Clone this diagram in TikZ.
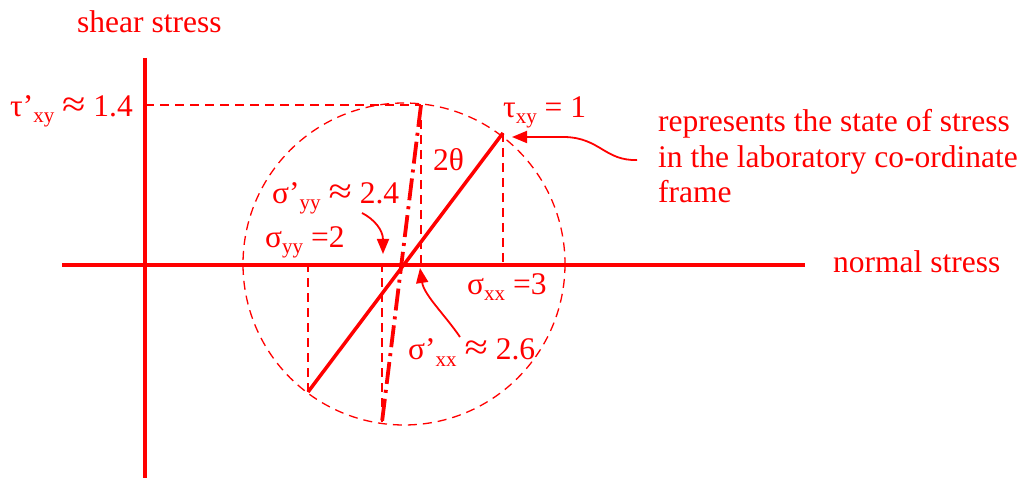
\documentclass[tikz,border=0pt]{standalone}
\usepackage{fontspec}
\usepackage{graphicx}
\setmainfont{Liberation Serif}
\usetikzlibrary{arrows.meta}
\definecolor{rd}{RGB}{255,0,0}
\newcommand\sbs[1]{\raisebox{-6pt}{\fontsize{21}{21}\selectfont #1}}
\newcommand\apx{\scalebox{1.35}[1.15]{≈}}
\begin{document}
\begin{tikzpicture}[x=1pt,y=-1pt,
 lbl/.style={anchor=base west,inner sep=0pt,text=rd,font=\fontsize{31.5}{35.5}\selectfont},
 axisline/.style={draw=rd,line width=3.5pt},
 guide/.style={draw=rd,line width=1.3pt,dash pattern=on 9pt off 6pt},
 mohr/.style={draw=rd,line width=3.5pt},
 rotd/.style={draw=rd,line width=3.8pt,dash pattern=on 22pt off 6pt on 3pt off 6pt},
 pointer/.style={draw=rd,line width=1.8pt,-{Triangle[length=15pt,width=12pt]}},
]
\useasboundingbox (0,0) rectangle (1026,478);
\coordinate (xl) at (62,265);
\coordinate (xr) at (805,265);
\coordinate (yt) at (145,58);
\coordinate (yb) at (145,478);
\coordinate (C) at (404,264);
\coordinate (A) at (503,133);
\coordinate (B) at (308,392);
\coordinate (P) at (421,105);
\coordinate (Q) at (382,422);
% guides
\draw[guide] (C) circle[radius=161];
\draw[guide] (yt |- P) -- (P);
\draw[guide] (P) -- (P |- xl);
\draw[guide] (A) -- (A |- xl);
\draw[guide] (B) -- (B |- xl);
\draw[guide] (Q) -- (Q |- xl);
% axes
\draw[axisline] (xl) -- (xr);
\draw[axisline] (yt) -- (yb);
% diameters
\draw[mohr] (B) -- (A);
\draw[rotd] (P) -- (Q);
% labels
\node[lbl] (shear) at (77,33) {shear stress};
\node[lbl] (normal) at (833,273) {normal stress};
\node[lbl] (tp) at (10,117) {τ’\sbs{xy} \apx{} 1.4};
\node[lbl] (txy) at (503,118) {τ\sbs{xy} = 1};
\node[lbl] (tth) at (433,171) {2θ};
\node[lbl] (syyp) at (272,204) {σ’\sbs{yy} \apx{} 2.4};
\node[lbl] (syy) at (265,248) {σ\sbs{yy} =2};
\node[lbl] (sxx) at (467,295) {σ\sbs{xx} =3};
\node[lbl] (sxxp) at (408,360) {σ’\sbs{xx} \apx{} 2.6};
\node[lbl] (rep1) at (658,132) {represents the state of stress};
\node[lbl] (rep2) at (658,168) {in the laboratory co-ordinate};
\node[lbl] (rep3) at (658,203) {frame};
% pointers
\coordinate (p1s) at (362,213);
\coordinate (p1e) at (383,254);
\coordinate (p2s) at (460,337);
\coordinate (p2e) at (420,268);
\coordinate (p3s) at (637,160);
\coordinate (p3e) at (512,137);
\draw[pointer] (p1s) .. controls (374,219) and (383,230) .. (p1e);
\draw[pointer] (p2s) .. controls (445,315) and (424,295) .. (p2e);
\draw[pointer] (p3s) .. controls (605,161) and (600,138) .. (565,137) -- (p3e);
\end{tikzpicture}
\end{document}
